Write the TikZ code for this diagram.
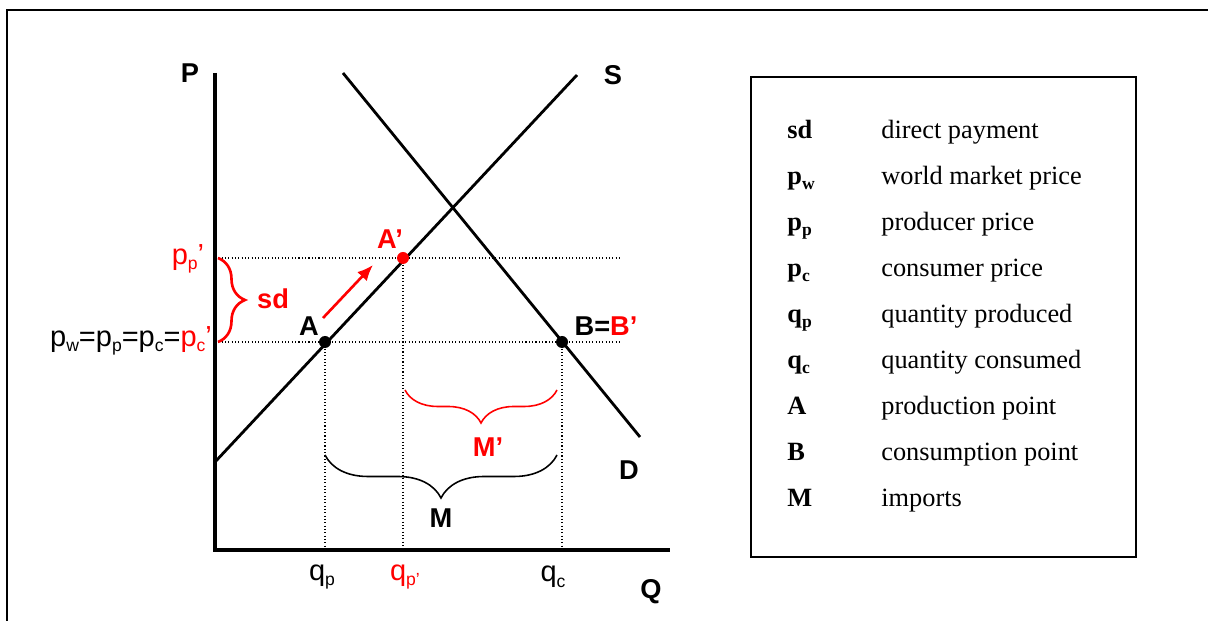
\documentclass[tikz,border=0pt]{standalone}
\usepackage{fontspec}
\setmainfont{Liberation Serif}
\setsansfont{Liberation Sans}
\usetikzlibrary{positioning,calc,decorations.pathreplacing,arrows.meta}
\tikzset{>=latex}
\newcommand{\subx}[1]{\raisebox{-0.35ex}{\fontsize{10}{10}\selectfont #1}}
\tikzset{
  lbl/.style={font=\sffamily\bfseries\fontsize{15.5}{18}\selectfont, inner sep=1pt},
  tick/.style={font=\sffamily\fontsize{16.5}{18}\selectfont, inner sep=1pt},
  curve/.style={line width=1.6pt},
  guide/.style={line width=0.6pt, dash pattern=on 0.6pt off 1.3pt},
  legkey/.style={font=\bfseries\fontsize{15}{18}\selectfont, anchor=base west, inner sep=0pt},
  legtxt/.style={font=\fontsize{15}{18}\selectfont, anchor=base west, inner sep=0pt},
  bracedown/.style={decorate, decoration={brace, mirror, amplitude=#1}},
}
\begin{document}
\begin{tikzpicture}[x=0.02cm, y=-0.02cm]
    \useasboundingbox (0,0) rectangle (1208,621);
    \draw[line width=1pt] (7,621) -- (7,10) -- (1208,10);

    % axes
    \coordinate (o) at (215,550);
    \coordinate (ptop) at (215,73);
    \coordinate (qend) at (670,550);
    \draw[line width=1.9pt] (ptop) -- (o) -- (qend);
    \node[lbl] (P) at (190,73) {P};
    \node[lbl] (Q) at (651,592) {Q};

    % supply and demand
    \coordinate (s0) at (215,462);
    \coordinate (s1) at (577,75);
    \coordinate (d0) at (343,73);
    \coordinate (d1) at (640,437);
    \draw[curve] (s0) -- (s1);
    \draw[curve] (d0) -- (d1);
    \node[lbl] (S) at (613,75) {S};
    \node[lbl] (D) at (629,470) {D};

    % points
    \coordinate (A) at (325,342);
    \coordinate (Ap) at (403,258);
    \coordinate (B) at (562,342);
    \coordinate (pw1) at (622,342);
    \coordinate (pp1) at (622,258);
    \draw[guide] (o |- A) -- (pw1);
    \draw[guide] (o |- Ap) -- (pp1);
    \foreach \p in {A,Ap,B}{
        \draw[guide] (\p) -- (\p |- o);
    }
    \fill (A) circle (6);
    \fill (B) circle (6);
    \fill[red] (Ap) circle (6);
    \node[lbl] (labA) at (309,326) {A};
    \node[lbl, red] (labAp) at (390,239) {A’};
    \node[lbl] (labB) at (606,326) {B=\textcolor{red}{B’}};

    % shift of production point
    \coordinate (arr0) at (323,318);
    \coordinate (arr1) at (373,265);
    \draw[red, line width=1.5pt, -{Latex[length=9pt,width=7.5pt]}] (arr0) -- (arr1);

    % price labels
    \node[tick, red] (pp) at (188,259) {p\subx{p}’};
    \node[tick, anchor=east] (pw) at (214,341) {p\subx{w}=p\subx{p}=p\subx{c}=\textcolor{red}{p\subx{c}’}};
    \draw[red, line width=1.5pt, decorate, decoration={brace, amplitude=5.4mm}] (218,258) -- (218,342);
    \node[lbl, red] (sd) at (273,299) {sd};

    % quantity labels
    \node[tick] (qp) at (322,577) {q\subx{p}};
    \node[tick, red] (qpp) at (405,577) {q\subx{p’}};
    \node[tick] (qc) at (553,577) {q\subx{c}};

    % imports
    \draw[red, line width=0.9pt, bracedown=6.6mm] (405,390) -- (557,390);
    \node[lbl, red] (Mp) at (488,447) {M’};
    \draw[line width=0.9pt, bracedown=8.6mm] (325,455) -- (557,455);
    \node[lbl] (M) at (441,518) {M};

    % legend
    \draw[line width=0.9pt] (751,77) rectangle (1136,557);
    \foreach \k/\t [count=\i] in {sd/direct payment, {p\subx{w}}/world market price,
        {p\subx{p}}/producer price, {p\subx{c}}/consumer price,
        {q\subx{p}}/quantity produced, {q\subx{c}}/quantity consumed,
        A/production point, B/consumption point, M/imports}{
        \node[legkey] (key\i) at (787,{139+46*(\i-1)}) {\k};
        \node[legtxt] (txt\i) at (881,{139+46*(\i-1)}) {\t};
    }
\end{tikzpicture}
\end{document}
